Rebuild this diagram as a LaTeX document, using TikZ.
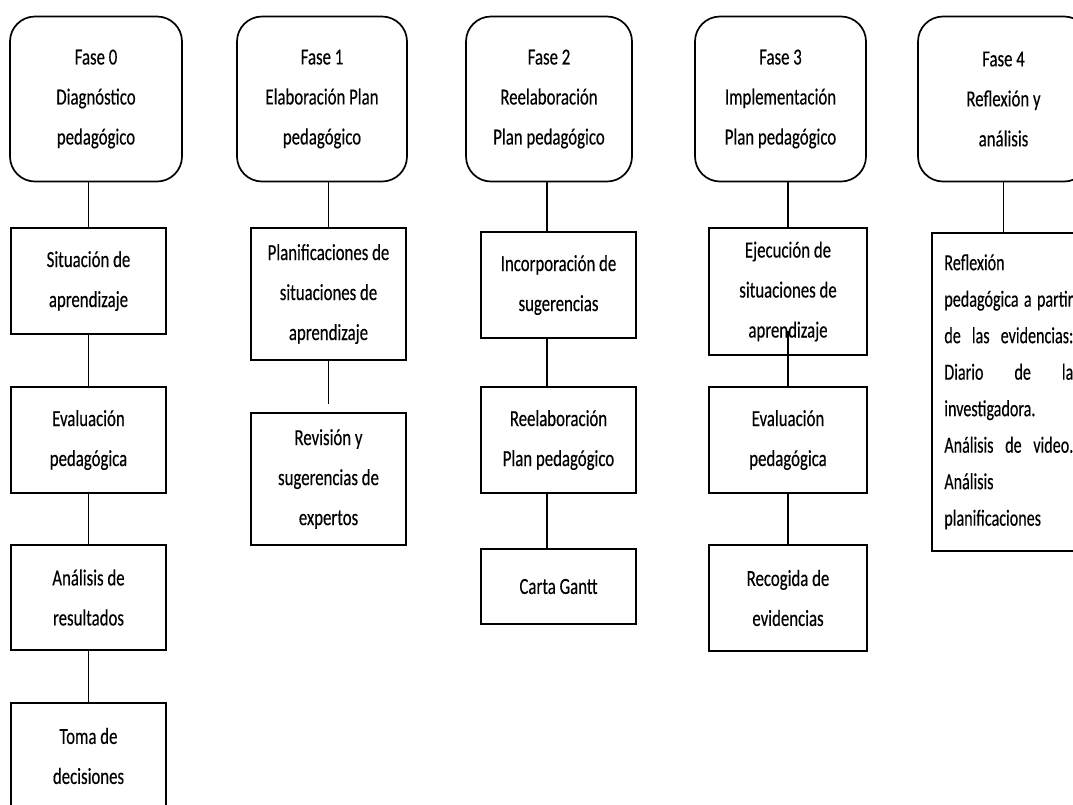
\documentclass[tikz,border=0pt]{standalone}
\usepackage{fontspec}
\setmainfont[FakeStretch=0.73,FakeBold=0.3]{Carlito}
\newfontfamily\estrecha[FakeStretch=0.70,FakeBold=0.3]{Carlito}
\newcommand{\llena}[1]{\leavevmode\hbox to 129pt{#1}}
\tikzset{
  fase/.style={draw, line width=1.7pt, rounded corners=25pt, minimum width=170pt,
    minimum height=165pt, align=center, font=\fontsize{23pt}{40pt}\selectfont},
  paso/.style={draw, line width=1.7pt, minimum width=155pt, align=center,
    font=\fontsize{23pt}{40pt}\selectfont},
  linea/.style={line width=1.5pt},
}
\begin{document}
\begin{tikzpicture}[x=1pt,y=-1pt]
  \clip (0,0) rectangle (1073,804);
  % fases
  \node[fase, minimum width=172pt] (f0) at (96,99) {Fase 0\\Diagnóstico\\pedagógico};
  \node[fase] (f1) at (322,99) {Fase 1\\Elaboración Plan\\pedagógico};
  \node[fase, minimum width=166pt] (f2) at (549,99) {Fase 2\\Reelaboración\\Plan pedagógico};
  \node[fase, minimum width=171pt] (f3) at (780.5,99) {Fase 3\\Implementación\\Plan pedagógico};
  \node[fase, minimum width=171pt] (f4) at (1003.5,99) {Fase 4\\Reflexión y\\análisis};
  % fase 0
  \node[paso, minimum height=106pt] (sit) at (88.5,281) {Situación de\\aprendizaje};
  \node[paso, minimum height=106pt] (eva0) at (88.5,440) {Evaluación\\pedagógica};
  \node[paso, minimum height=105pt] (ana) at (88.5,597.5) {Análisis de\\resultados};
  \node[paso, minimum height=106pt] (toma) at (88.5,756) {Toma de\\decisiones};
  % fase 1
  \node[paso, minimum height=132pt] (plan) at (328.5,294) {Planificaciones de\\situaciones de\\aprendizaje};
  \node[paso, minimum height=132pt] (rev) at (328.5,479) {Revisión y\\sugerencias de\\expertos};
  % fase 2
  \node[paso, minimum height=106pt] (inc) at (558.5,285) {Incorporación de\\sugerencias};
  \node[paso, minimum height=106pt] (reel) at (558.5,440) {Reelaboración\\Plan pedagógico};
  \node[paso, minimum height=75pt] (gantt) at (558.5,586.5) {Carta Gantt};
  % fase 3
  \node[paso, minimum width=158pt, minimum height=127pt] (ejec) at (788,291.5) {Ejecución de\\situaciones de\\aprendizaje};
  \node[paso, minimum width=158pt, minimum height=106pt] (eva3) at (788,440) {Evaluación\\pedagógica};
  \node[paso, minimum width=158pt, minimum height=106pt] (rec) at (788,598) {Recogida de\\evidencias};
  % fase 4
  \node[paso, anchor=north west, minimum height=318pt, text width=130pt, inner xsep=12pt,
    align=left, font=\estrecha\fontsize{23pt}{36.5pt}\selectfont] (refl) at (931,232)
    {Reflexión\\\llena{pedagógica\hfil a\hfil partir}\\\llena{de\hfill las\hfill evidencias:}\\\llena{Diario\hfill de\hfill la}\\investigadora.\\\llena{Análisis\hfill de\hfill video.}\\Análisis\\planificaciones};
  % uniones
  \coordinate (c2) at (547,0);
  \draw[linea] (f0.south -| sit.north) -- (sit.north);
  \draw[linea] (sit.south) -- (eva0.north);
  \draw[linea] (eva0.south) -- (ana.north);
  \draw[linea] (ana.south) -- (toma.north);
  \draw[linea] (f1.south -| plan.north) -- (plan.north);
  \draw[linea] (plan.south) -- ([yshift=8pt]rev.north);
  \draw[linea] (f2.south -| c2) -- (inc.north -| c2);
  \draw[linea] (inc.south -| c2) -- (reel.north -| c2);
  \draw[linea] (reel.south -| c2) -- (gantt.north -| c2);
  \draw[linea] (f3.south -| ejec.north) -- (ejec.north);
  \draw[linea] ([yshift=25pt]ejec.south) -- (eva3.north);
  \draw[linea] (eva3.south) -- (rec.north);
  \draw[linea] (f4.south) -- (f4.south |- refl.north);
\end{tikzpicture}
\end{document}
